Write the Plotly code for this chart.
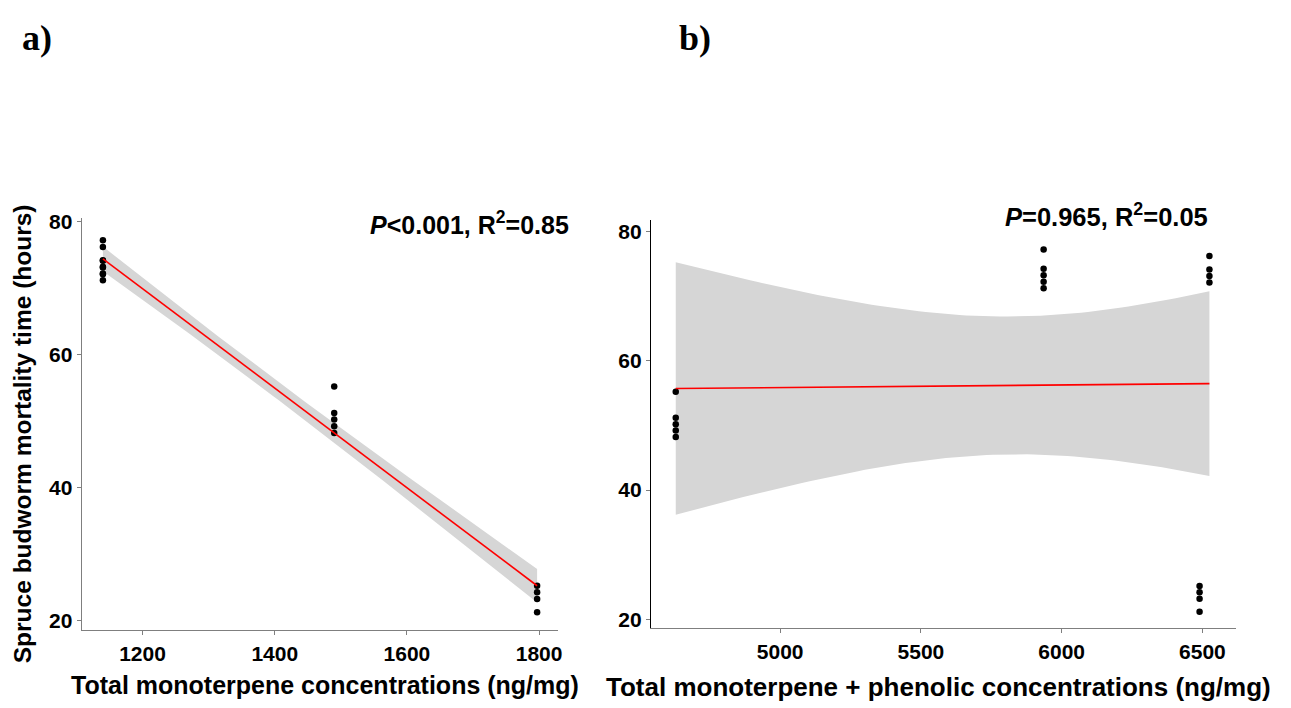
import numpy as np
import plotly.graph_objects as go

# ---- data (mortality time in hours, grouped by treatment) ----
mono_conc = [1140, 1140, 1490, 1797]          # total monoterpene (ng/mg) per group
total_conc = [5936, 6525, 4629, 6490]         # monoterpene + phenolic (ng/mg) per group
mortality = [
    [77.2, 74.2, 73.2, 72.2, 71.2],
    [76.2, 74.1, 73.1, 72.1],
    [55.2, 51.2, 50.2, 49.2, 48.2],
    [25.2, 24.2, 23.2, 21.2],
]
y_ticks = [20, 40, 60, 80]
xa_ticks = [1200, 1400, 1600, 1800]
xb_ticks = [5000, 5500, 6000, 6500]

W, H = 1291, 708
T_CRIT = 2.119905  # t(0.975, df=16)


def expand(xs):
    x, y = [], []
    for xv, ys in zip(xs, mortality):
        x += [xv] * len(ys)
        y += ys
    return np.array(x, float), np.array(y, float)


def lm_band(x, y, n=80):
    b1, b0 = np.polyfit(x, y, 1)
    res = y - (b0 + b1 * x)
    s = np.sqrt(np.sum(res ** 2) / (len(x) - 2))
    xm = x.mean()
    sxx = np.sum((x - xm) ** 2)
    xg = np.linspace(x.min(), x.max(), n)
    fit = b0 + b1 * xg
    se = s * np.sqrt(1 / len(x) + (xg - xm) ** 2 / sxx)
    return xg, fit, fit - T_CRIT * se, fit + T_CRIT * se


fig = go.Figure()

for xs, xa, ya in [(mono_conc, "x", "y"), (total_conc, "x2", "y2")]:
    x, y = expand(xs)
    xg, fit, lo, hi = lm_band(x, y)
    fig.add_trace(go.Scatter(x=np.concatenate([xg, xg[::-1]]), y=np.concatenate([hi, lo[::-1]]),
                             fill="toself", fillcolor="#d6d6d6", line=dict(width=0),
                             mode="lines", hoverinfo="skip", xaxis=xa, yaxis=ya))
    fig.add_trace(go.Scatter(x=x, y=y, mode="markers", marker=dict(color="black", size=6.5),
                             xaxis=xa, yaxis=ya))
    fig.add_trace(go.Scatter(x=xg, y=fit, mode="lines", line=dict(color="#ff0000", width=1.6),
                             xaxis=xa, yaxis=ya))

tickfont = dict(family="Liberation Sans, Arial", size=21, color="black", weight="bold")
ax_common = dict(showgrid=False, zeroline=False, showline=True, ticks="outside",
                 ticklen=4, tickcolor="#7f7f7f", tickfont=tickfont, linewidth=1.3)

fig.update_layout(
    width=W, height=H, margin=dict(l=0, r=0, t=0, b=0),
    paper_bgcolor="white", plot_bgcolor="white", showlegend=False,
    xaxis=dict(domain=[82 / W, 560 / W], range=[1108, 1829], tickvals=xa_ticks,
               linecolor="#7f7f7f", anchor="y", **ax_common),
    yaxis=dict(domain=[1 - 632 / H, 1 - 213 / H], range=[18.5, 80.6], tickvals=y_ticks,
               linecolor="#7f7f7f", anchor="x", **ax_common),
    xaxis2=dict(domain=[653 / W, 1240 / W], range=[4541, 6620], tickvals=xb_ticks,
                linecolor="#7f7f7f", anchor="y2", **ax_common),
    yaxis2=dict(domain=[1 - 630 / H, 1 - 215 / H], range=[18.66, 81.8], tickvals=y_ticks,
                linecolor="black", anchor="x2", **ax_common),
)


def font(size, family="Liberation Sans, Arial"):
    return dict(family=family, size=size, color="black", weight="bold")


def ann(text, x, y, f, angle=0):
    fig.add_annotation(text=text, x=x / W, y=1 - y / H, xref="paper", yref="paper",
                       showarrow=False, font=f, textangle=angle,
                       xanchor="center", yanchor="middle")


ann("Spruce budworm mortality time (hours)", 22, 432, font(24.5), -90)
ann("Total monoterpene concentrations (ng/mg)", 326, 688, font(25))
ann("Total monoterpene + phenolic concentrations (ng/mg)", 941, 690, font(26))
ann("<i>P</i>&lt;0.001, R<sup>2</sup>=0.85", 471, 218, font(25))
ann("<i>P</i>=0.965, R<sup>2</sup>=0.05", 1110, 210, font(25.5))
ann("a)", 37, 30, font(36, "Liberation Serif, Times New Roman"))
ann("b)", 697, 30, font(36, "Liberation Serif, Times New Roman"))

fig.write_html("out.html")
